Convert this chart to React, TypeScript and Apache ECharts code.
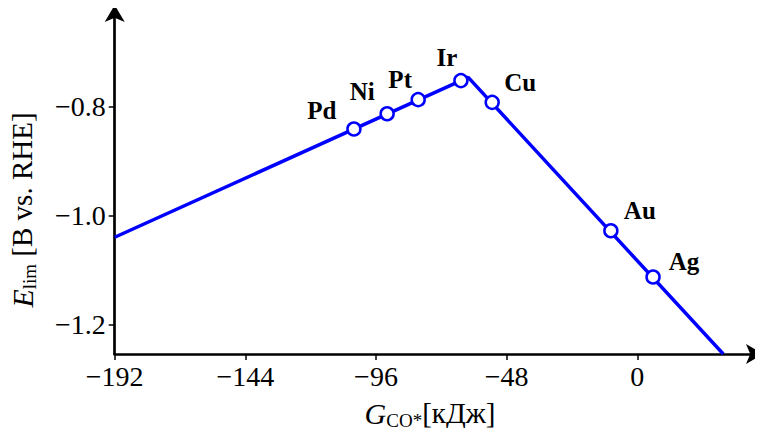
import React, { useEffect, useRef } from "react";
import * as echarts from "echarts";

const metals = ["Pd", "Ni", "Pt", "Ir", "Cu", "Au", "Ag"];
const gco = [-104.1, -91.9, -80.5, -64.8, -53.3, -9.7, 5.8];
const elim = [-0.841, -0.813, -0.787, -0.752, -0.792, -1.028, -1.113];
const volcanoG = [-192, -62.1, 31.6];
const volcanoE = [-1.04, -0.746, -1.2546];
const xTicks = [-192, -144, -96, -48, 0];
const yTicks = [-1.2, -1.0, -0.8];

const labelOffsets: number[][] = [
  [-32, -19],
  [-25, -22],
  [-18, -20],
  [-14, -23],
  [28, -20],
  [29, -20],
  [31, -15],
];

const FONT = "'Liberation Serif', 'Times New Roman', serif";
const BLUE = "#0000ff";

const fmt = (v: number, dec: number) =>
  (v < 0 ? "\u2212" : "") + Math.abs(v).toFixed(dec);

export default function App() {
  const ref = useRef<HTMLDivElement>(null);
  useEffect(() => {
    if (!ref.current) return;
    const chart = echarts.init(ref.current, undefined, { renderer: "svg" });
    chart.setOption({
      animation: false,
      backgroundColor: "#fff",
      grid: {
        left: 114.7,
        right: 0,
        top: 5,
        bottom: 82,
        containLabel: false,
        outerBoundsMode: "none",
      },
      xAxis: {
        type: "value",
        min: -192,
        max: 46.2,
        splitLine: { show: false },
        axisLine: {
          show: true,
          onZero: false,
          symbol: ["none", "arrow"],
          symbolSize: [15, 17],
          lineStyle: { color: "#000", width: 2.7 },
        },
        axisTick: {
          show: true,
          length: 6,
          customValues: xTicks,
          lineStyle: { color: "#000", width: 1.5 },
        },
        axisLabel: {
          customValues: xTicks,
          margin: 8,
          color: "#000",
          fontFamily: FONT,
          fontSize: 28,
          formatter: (v: number) => fmt(v, 0),
        },
      },
      yAxis: {
        type: "value",
        min: -1.2546,
        max: -0.613,
        splitLine: { show: false },
        axisLine: {
          show: true,
          onZero: false,
          symbol: ["none", "arrow"],
          symbolSize: [15, 17],
          lineStyle: { color: "#000", width: 2.7 },
        },
        axisTick: {
          show: true,
          length: 6,
          customValues: yTicks,
          lineStyle: { color: "#000", width: 1.5 },
        },
        axisLabel: {
          customValues: yTicks,
          margin: 9,
          color: "#000",
          fontFamily: FONT,
          fontSize: 28,
          formatter: (v: number) => fmt(v, 1),
        },
      },
      graphic: [
        {
          type: "text",
          x: 22,
          y: 210,
          rotation: Math.PI / 2,
          style: {
            text: "{e|E}{sub|lim}{n| [В vs. RHE]}",
            align: "center",
            verticalAlign: "middle",
            fill: "#000",
            rich: {
              e: {
                fontFamily: FONT,
                fontSize: 30,
                fontStyle: "italic",
                lineHeight: 34,
                fill: "#000",
              },
              sub: {
                fontFamily: FONT,
                fontSize: 19,
                lineHeight: 20,
                verticalAlign: "bottom",
                fill: "#000",
              },
              n: {
                fontFamily: FONT,
                fontSize: 29,
                lineHeight: 34,
                fill: "#000",
              },
            },
          },
        },
        {
          type: "text",
          x: 430,
          y: 413,
          style: {
            text: "{g|G}{sub|CO*}{n|[кДж]}",
            align: "center",
            verticalAlign: "middle",
            fill: "#000",
            rich: {
              g: {
                fontFamily: FONT,
                fontSize: 30,
                fontStyle: "italic",
                lineHeight: 34,
                fill: "#000",
              },
              sub: {
                fontFamily: FONT,
                fontSize: 19,
                lineHeight: 20,
                verticalAlign: "bottom",
                fill: "#000",
              },
              n: {
                fontFamily: FONT,
                fontSize: 29,
                lineHeight: 34,
                fill: "#000",
              },
            },
          },
        },
      ],
      series: [
        {
          type: "line",
          data: volcanoG.map((g, i) => [g, volcanoE[i]]),
          showSymbol: false,
          symbol: "none",
          lineStyle: { color: BLUE, width: 3.5 },
          z: 2,
        },
        {
          type: "scatter",
          data: metals.map((m, i) => ({
            name: m,
            value: [gco[i], elim[i]],
            label: { offset: labelOffsets[i] },
          })),
          symbol: "circle",
          symbolSize: 13,
          itemStyle: { color: "#fff", borderColor: BLUE, borderWidth: 2.5, opacity: 1 },
          label: {
            show: true,
            position: "inside",
            formatter: "{b}",
            color: "#000",
            fontFamily: FONT,
            fontWeight: "bold",
            fontSize: 25,
          },
          z: 3,
        },
      ],
    });
    return () => chart.dispose();
  }, []);
  return <div ref={ref} style={{ width: 763, height: 436, margin: -8 }} />;
}
